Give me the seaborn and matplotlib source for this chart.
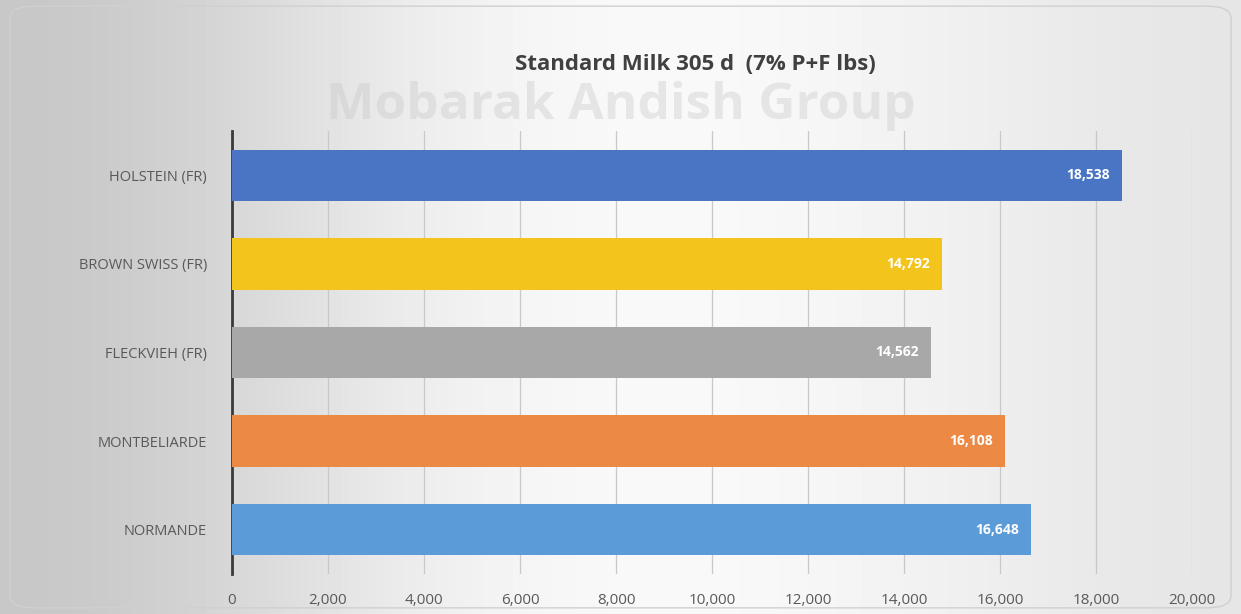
import matplotlib
matplotlib.use("Agg")
import matplotlib.pyplot as plt
import seaborn as sns
import numpy as np
import pandas as pd
from matplotlib.patches import FancyBboxPatch

breeds = ["HOLSTEIN (FR)", "BROWN SWISS (FR)", "FLECKVIEH (FR)", "MONTBELIARDE", "NORMANDE"]
milk = [18538, 14792, 14562, 16108, 16648]
bar_colors = ["#4a74c4", "#f2c41c", "#a8a8a8", "#ec8a45", "#5b9bd8"]
x_ticks = [0, 2000, 4000, 6000, 8000, 10000, 12000, 14000, 16000, 18000, 20000]

df = pd.DataFrame({"breed": breeds, "milk": milk})

sns.set_theme(style="white")
plt.rcParams["font.family"] = ["Open Sans", "DejaVu Sans"]

fig = plt.figure(figsize=(12.41, 6.14), dpi=100)
fig.patch.set_facecolor("white")

# soft grey gradient panel behind the chart
bg = fig.add_axes([0, 0, 1, 1], zorder=0)
grad = np.array([0.78, 0.84, 0.92, 0.97, 0.98, 0.96, 0.93, 0.90])
bg.imshow(np.tile(grad, (2, 1)), cmap="gray", vmin=0, vmax=1, aspect="auto",
          extent=[0, 1, 0, 1], interpolation="bicubic")
bg.set_xlim(0, 1)
bg.set_ylim(0, 1)
bg.axis("off")
mask = FancyBboxPatch((0.008, 0.01), 0.984, 0.98, boxstyle="round,pad=0,rounding_size=0.02",
                      transform=bg.transAxes, facecolor="none", edgecolor="#d0d0d0", lw=1)
bg.add_patch(mask)
bg.text(0.5, 0.828, "Mobarak Andish Group", ha="center", va="center", fontsize=37,
        fontweight="bold", color="#c4c4c4", alpha=0.35)

ax = fig.add_axes([232 / 1241, 1 - 574 / 614, (1192 - 232) / 1241, (574 - 131) / 614], zorder=1)
ax.patch.set_alpha(0)

sns.barplot(data=df, x="milk", y="breed", hue="breed", palette=bar_colors,
            orient="h", width=0.58, saturation=1, edgecolor="none", linewidth=0,
            legend=False, ax=ax, zorder=3)

ax.set_xlim(0, 20000)
ax.set_xticks(x_ticks)
ax.set_xticklabels([f"{t:,}" for t in x_ticks], fontsize=11, color="#595959")
ax.tick_params(axis="y", labelsize=10.5, labelcolor="#595959", length=0, pad=18)
ax.tick_params(axis="x", length=0, pad=14)
ax.grid(axis="x", color="#c8c8c8", lw=0.9, zorder=0)
ax.set_xlabel("")
ax.set_ylabel("")
for s in ["top", "right", "bottom"]:
    ax.spines[s].set_visible(False)
ax.spines["left"].set_color("#3a3a3a")
ax.spines["left"].set_linewidth(2)

for i, v in enumerate(milk):
    ax.text(v - 250, i, f"{v:,}", ha="right", va="center", color="white",
            fontsize=10, fontweight="bold", zorder=4)

fig.text(0.56, 0.895, "Standard Milk 305 d  (7% P+F lbs)", ha="center", va="center",
         fontsize=16, fontweight="bold", color="#404040")

fig.savefig("out.png", dpi=100)
